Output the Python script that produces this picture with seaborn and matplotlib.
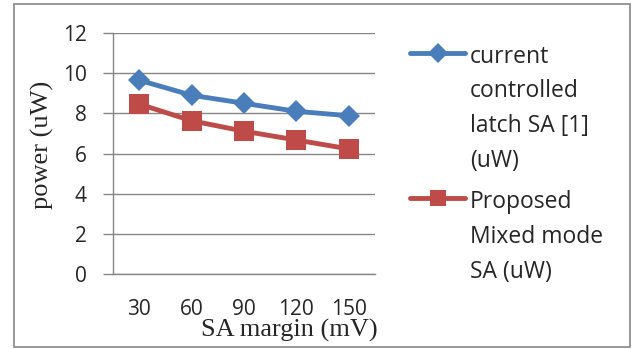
import numpy as np
import pandas as pd
import matplotlib
matplotlib.use("Agg")
import matplotlib.pyplot as plt
from matplotlib.patches import Rectangle
import seaborn as sns

margins = ["30", "60", "90", "120", "150"]
current_latch = [9.65, 8.9, 8.5, 8.1, 7.88]
proposed_mixed = [8.46, 7.63, 7.11, 6.67, 6.23]
series_names = ["current\ncontrolled\nlatch SA [1]\n(uW)", "Proposed\nMixed mode\nSA (uW)"]
y_ticks = [0, 2, 4, 6, 8, 10, 12]

df = pd.DataFrame({
    "margin": margins * 2,
    "power": current_latch + proposed_mixed,
    "series": [series_names[0]] * len(margins) + [series_names[1]] * len(margins),
})

sns.set_style("white")
plt.rcParams["font.family"] = ["Open Sans", "DejaVu Sans"]

fig = plt.figure(figsize=(6.35, 3.49), dpi=100)
ax = fig.add_axes([113 / 635, 75 / 349, 262 / 635, 241 / 349])

palette = {series_names[0]: "#4A7EBB", series_names[1]: "#BE4B48"}
sns.lineplot(data=df, x="margin", y="power", hue="series", style="series",
             markers={series_names[0]: "D", series_names[1]: "s"},
             dashes=False, palette=palette, linewidth=3.5,
             markeredgewidth=0, ax=ax, sort=False)
for line, ms in zip(ax.lines, [11, 14]):
    line.set_markersize(ms)

ax.set_ylim(0, 12)
ax.set_xlim(-0.5, len(margins) - 0.5)
ax.set_yticks(y_ticks)
ax.set_yticklabels([str(t) for t in y_ticks], fontsize=15)
ax.set_xticks(range(len(margins)))
ax.set_xticklabels(margins, fontsize=15)
ax.set_xticks(np.arange(-0.5, len(margins)), minor=True)
ax.tick_params(axis="x", which="major", length=0, pad=18)
ax.tick_params(axis="x", which="minor", length=7, color="#868686", width=1, direction="out")
ax.tick_params(axis="y", length=7, color="#868686", width=1, direction="out", pad=12, left=True)
ax.grid(axis="y", color="#868686", linewidth=1)
ax.set_axisbelow(True)
for s in ["top", "right"]:
    ax.spines[s].set_visible(False)
for s in ["left", "bottom"]:
    ax.spines[s].set_color("#868686")
    ax.spines[s].set_linewidth(1)

ax.set_xlabel("SA margin (mV)", family="Liberation Serif", fontsize=19)
ax.xaxis.set_label_coords(0.672, -0.185)
ax.set_ylabel("power (uW)", family="Liberation Serif", fontsize=19)
ax.yaxis.set_label_coords(-0.225, 0.535)

leg = ax.legend(loc="upper left", bbox_to_anchor=(1.134, 0.952), frameon=False,
                fontsize=16.5, handlelength=2.4, handletextpad=0.2, labelspacing=0.75,
                borderaxespad=0, borderpad=0)
for t in leg.get_texts():
    t.set_linespacing(1.6)
for h, ms in zip(leg.legend_handles, [10, 12]):
    h.set_markersize(ms)
# put each legend marker next to the first line of its label
for col in leg._legend_handle_box.get_children():
    for row in col.get_children():
        row.align = "top"

fig.patches.append(Rectangle((14 / 635, 2 / 349), 616 / 635, 343 / 349, transform=fig.transFigure,
                             fill=False, edgecolor="#868686", linewidth=1.2))

fig.savefig("out.png", dpi=100)
